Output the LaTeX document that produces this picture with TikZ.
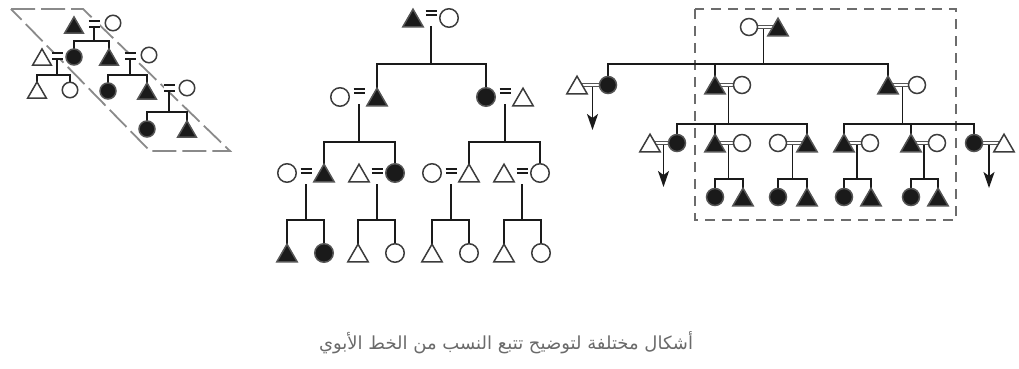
\documentclass[tikz,border=0pt]{standalone}
\usepackage{fontspec}
\usetikzlibrary{shapes.geometric,arrows.meta}
\newfontfamily\arabicfont[Script=Arabic]{DejaVu Sans}
\TeXXeTstate=1
\pgfdeclarelayer{links}
\pgfsetlayers{links,main}

\definecolor{ink}{HTML}{1A1A1A}
\definecolor{rim}{HTML}{555555}
\definecolor{framegray}{HTML}{6C6C6C}
\definecolor{paragray}{HTML}{8A8A8A}
\definecolor{capgray}{HTML}{6A6A6A}

\tikzset{
  sym/.style={inner sep=0pt, outer sep=0pt, line width=1.5pt},
  ocirc/.style={sym, circle, draw=ink!85, fill=white, minimum size=#1},
  fcirc/.style={sym, circle, draw=rim, fill=ink, minimum size=#1},
  tri/.style={sym, regular polygon, regular polygon sides=3, minimum size=#1, yshift={-(#1)/8}},
  otri/.style={tri=#1, draw=ink!85, fill=white},
  ftri/.style={tri=#1, draw=rim, fill=ink},
  link/.style={line width=1.9pt, draw=ink},
  wed/.style={line width=1pt, draw=rim, double=white, double distance=2.4pt},
  descent/.style={link, -{Stealth[length=16pt, width=11pt, inset=4pt]}},
  boxframe/.style={line width=1.3pt, draw=framegray, dash pattern=on 10pt off 7pt},
  paraframe/.style={line width=1.8pt, draw=paragray, dash pattern=on 24pt off 6pt},
  pics/eqL/.style={code={
    \draw[line width=2pt, draw=ink, double=white, double distance=4.5pt] (-5.5,0) -- (5.5,0);
    \coordinate (-d) at (0,3.3);
  }},
  pics/eqM/.style={code={
    \draw[line width=1.9pt, draw=ink, double=white, double distance=2.6pt] (-5.5,0) -- (5.5,0);
    \coordinate (-d) at (0,13);
  }},
}

\begin{document}
\begin{tikzpicture}[x=1pt, y=-1pt]
\useasboundingbox (0,0) rectangle (1019,369);

% ---------- left: patrilineal descent inside a slanted frame ----------
\node[ftri=21.5pt] (La1) at (74,25) {};
\node[ocirc=15.5pt] (La2) at (113,23) {};
\pic (Lq1) at (94,24) {eqL};
\coordinate (Lj1) at (94,41);

\node[otri=21.5pt] (Lb0) at (42,57) {};
\pic (Lq2) at (57,56) {eqL};
\node[fcirc=16pt] (Lb1) at (74,57) {};
\node[ftri=21.5pt] (Lb2) at (109,57) {};
\pic (Lq3) at (130,56) {eqL};
\node[ocirc=15.5pt] (Lb3) at (149,55) {};
\coordinate (Lj2) at (57,75);
\coordinate (Lj3) at (130,75);

\node[otri=21.5pt] (Lc1) at (37,90) {};
\node[ocirc=15.5pt] (Lc2) at (70,90) {};
\node[fcirc=16pt] (Lc3) at (108,91) {};
\node[ftri=21.5pt] (Lc4) at (147,91) {};
\pic (Lq4) at (169,88) {eqL};
\node[ocirc=15.5pt] (Lc5) at (187,88) {};
\coordinate (Lj4) at (169,112);

\node[fcirc=16pt] (Ld1) at (147,129) {};
\node[ftri=21.5pt] (Ld2) at (187,129) {};

% ---------- middle: four generations ----------
\node[ftri=23.5pt] (Ma1) at (413,18) {};
\pic (Mq1) at (431,13) {eqM};
\node[ocirc=18.5pt] (Ma2) at (449,18) {};
\coordinate (Mj1) at (431,64);

\node[ocirc=18.5pt] (Mb1) at (340,97) {};
\pic (Mq2) at (359,91) {eqM};
\node[ftri=23.5pt] (Mb2) at (377,97) {};
\node[fcirc=18.5pt] (Mb3) at (486,97) {};
\pic (Mq3) at (505,91) {eqM};
\node[otri=23.5pt] (Mb4) at (523,97) {};
\coordinate (Mj2) at (359,142);
\coordinate (Mj3) at (505,142);

\node[ocirc=18.5pt] (Mc1) at (287,173) {};
\pic (Mq4) at (306,171) {eqM};
\node[ftri=23.5pt] (Mc2) at (324,173) {};
\node[otri=23.5pt] (Mc3) at (359,173) {};
\pic (Mq5) at (377,171) {eqM};
\node[fcirc=18.5pt] (Mc4) at (395,173) {};
\node[ocirc=18.5pt] (Mc5) at (432,173) {};
\pic (Mq6) at (451,171) {eqM};
\node[otri=23.5pt] (Mc6) at (469,173) {};
\node[otri=23.5pt] (Mc7) at (504,173) {};
\pic (Mq7) at (522,171) {eqM};
\node[ocirc=18.5pt] (Mc8) at (540,173) {};
\coordinate (Mj4) at (306,220);
\coordinate (Mj5) at (377,220);
\coordinate (Mj6) at (451,220);
\coordinate (Mj7) at (522,220);

\node[ftri=23.5pt] (Md1) at (287,253) {};
\node[fcirc=18.5pt] (Md2) at (324,253) {};
\node[otri=23.5pt] (Md3) at (358,253) {};
\node[ocirc=18.5pt] (Md4) at (395,253) {};
\node[otri=23.5pt] (Md5) at (432,253) {};
\node[ocirc=18.5pt] (Md6) at (469,253) {};
\node[otri=23.5pt] (Md7) at (504,253) {};
\node[ocirc=18.5pt] (Md8) at (541,253) {};

% ---------- right: lineage framed, out-marrying branches ----------
\node[ocirc=17pt] (Ra1) at (749,27) {};
\node[ftri=23.5pt] (Ra2) at (778,27) {};
\coordinate (Rm1) at (763.5,27);
\coordinate (Rj1) at (763.5,64);

\node[otri=23.5pt] (Rb0) at (577,85) {};
\node[fcirc=17pt] (Rb1) at (608,85) {};
\node[ftri=23.5pt] (Rb2) at (715,85) {};
\node[ocirc=17pt] (Rb3) at (742,85) {};
\node[ftri=23.5pt] (Rb4) at (888,85) {};
\node[ocirc=17pt] (Rb5) at (917,85) {};
\coordinate (Rm2) at (592.5,85);
\coordinate (Rt2) at (592.5,130);
\coordinate (Rm3) at (728.5,85);
\coordinate (Rj3) at (728.5,124);
\coordinate (Rm4) at (902.5,85);
\coordinate (Rj4) at (902.5,124);

\node[otri=23.5pt] (Rc0) at (650,143) {};
\node[fcirc=17pt] (Rc1) at (677,143) {};
\node[ftri=23.5pt] (Rc2) at (715,143) {};
\node[ocirc=17pt] (Rc3) at (742,143) {};
\node[ocirc=17pt] (Rc4) at (778,143) {};
\node[ftri=23.5pt] (Rc5) at (807,143) {};
\node[ftri=23.5pt] (Rc6) at (844,143) {};
\node[ocirc=17pt] (Rc7) at (870,143) {};
\node[ftri=23.5pt] (Rc8) at (911,143) {};
\node[ocirc=17pt] (Rc9) at (937,143) {};
\node[fcirc=17pt] (Rc10) at (974,143) {};
\node[otri=23.5pt] (Rc11) at (1004,143) {};
\coordinate (Rm5) at (663.5,143);
\coordinate (Rt5) at (663.5,187);
\coordinate (Rm6) at (728.5,143);
\coordinate (Rj6) at (728.5,179);
\coordinate (Rm7) at (792.5,143);
\coordinate (Rj7) at (792.5,179);
\coordinate (Rm8) at (857,143);
\coordinate (Rj8) at (857,179);
\coordinate (Rm9) at (924,143);
\coordinate (Rj9) at (924,179);
\coordinate (Rm10) at (989,143);
\coordinate (Rt10) at (989,188);

\node[fcirc=17pt] (Rd1) at (715,197) {};
\node[ftri=23.5pt] (Rd2) at (743,197) {};
\node[fcirc=17pt] (Rd3) at (778,197) {};
\node[ftri=23.5pt] (Rd4) at (807,197) {};
\node[fcirc=17pt] (Rd5) at (844,197) {};
\node[ftri=23.5pt] (Rd6) at (871,197) {};
\node[fcirc=17pt] (Rd7) at (911,197) {};
\node[ftri=23.5pt] (Rd8) at (938,197) {};

% ---------- caption ----------
\node[text=capgray, font=\arabicfont\fontsize{18}{21}\selectfont] (cap) at (506,343)
  {\beginR أشكال مختلفة لتوضيح تتبع النسب من الخط الأبوي\endR};

% ---------- connectors and frames, behind the symbols ----------
\begin{pgfonlayer}{links}
  \draw[paraframe] (11,9) -- (83,9) -- (230,151) -- (150,151) -- cycle;
  \draw[boxframe] (695,9) rectangle (956,220);

  % left
  \draw[link] (Lq1-d) -- (Lj1);
  \draw[link] (Lb1.north) |- (Lj1) -| (Lb2.north);
  \draw[link] (Lq2-d) -- (Lj2);
  \draw[link] (Lc1.north) |- (Lj2) -| (Lc2.north);
  \draw[link] (Lq3-d) -- (Lj3);
  \draw[link] (Lc3.north) |- (Lj3) -| (Lc4.north);
  \draw[link] (Lq4-d) -- (Lj4);
  \draw[link] (Ld1.north) |- (Lj4) -| (Ld2.north);

  % middle
  \draw[link] (Mq1-d) -- (Mj1);
  \draw[link] (Mb2.north) |- (Mj1) -| (Mb3.north);
  \draw[link] (Mq2-d) -- (Mj2);
  \draw[link] (Mc2.north) |- (Mj2) -| (Mc4.north);
  \draw[link] (Mq3-d) -- (Mj3);
  \draw[link] (Mc6.north) |- (Mj3) -| (Mc8.north);
  \draw[link] (Mq4-d) -- (Mj4);
  \draw[link] (Md1.north) |- (Mj4) -| (Md2.north);
  \draw[link] (Mq5-d) -- (Mj5);
  \draw[link] (Md3.north) |- (Mj5) -| (Md4.north);
  \draw[link] (Mq6-d) -- (Mj6);
  \draw[link] (Md5.north) |- (Mj6) -| (Md6.north);
  \draw[link] (Mq7-d) -- (Mj7);
  \draw[link] (Md7.north) |- (Mj7) -| (Md8.north);

  % right: descent lines
  \draw[link] (Rm1) -- (Rj1);
  \draw[link] (Rb1.north) |- (Rj1) -| (Rb4.north);
  \draw[link] (Rb2.north) -- (Rb2.north |- Rj1);
  \draw[descent] (Rm2) -- (Rt2);
  \draw[link] (Rm3) -- (Rj3);
  \draw[link] (Rc1.north) |- (Rj3) -| (Rc5.north);
  \draw[link] (Rc2.north) -- (Rc2.north |- Rj3);
  \draw[link] (Rm4) -- (Rj4);
  \draw[link] (Rc6.north) |- (Rj4) -| (Rc10.north);
  \draw[link] (Rc8.north) -- (Rc8.north |- Rj4);
  \draw[descent] (Rm5) -- (Rt5);
  \draw[link] (Rm6) -- (Rj6);
  \draw[link] (Rd1.north) |- (Rj6) -| (Rd2.north);
  \draw[link] (Rm7) -- (Rj7);
  \draw[link] (Rd3.north) |- (Rj7) -| (Rd4.north);
  \draw[link] (Rm8) -- (Rj8);
  \draw[link] (Rd5.north) |- (Rj8) -| (Rd6.north);
  \draw[link] (Rm9) -- (Rj9);
  \draw[link] (Rd7.north) |- (Rj9) -| (Rd8.north);
  \draw[descent] (Rm10) -- (Rt10);

  % right: marriages
  \draw[wed] (Ra1.center) -- (Ra1.center -| Ra2.center);
  \draw[wed] (Rb1.center) -- (Rb1.center -| Rb0.center);
  \draw[wed] (Rb3.center) -- (Rb3.center -| Rb2.center);
  \draw[wed] (Rb5.center) -- (Rb5.center -| Rb4.center);
  \draw[wed] (Rc1.center) -- (Rc1.center -| Rc0.center);
  \draw[wed] (Rc3.center) -- (Rc3.center -| Rc2.center);
  \draw[wed] (Rc4.center) -- (Rc4.center -| Rc5.center);
  \draw[wed] (Rc7.center) -- (Rc7.center -| Rc6.center);
  \draw[wed] (Rc9.center) -- (Rc9.center -| Rc8.center);
  \draw[wed] (Rc10.center) -- (Rc10.center -| Rc11.center);
\end{pgfonlayer}
\end{tikzpicture}
\end{document}
